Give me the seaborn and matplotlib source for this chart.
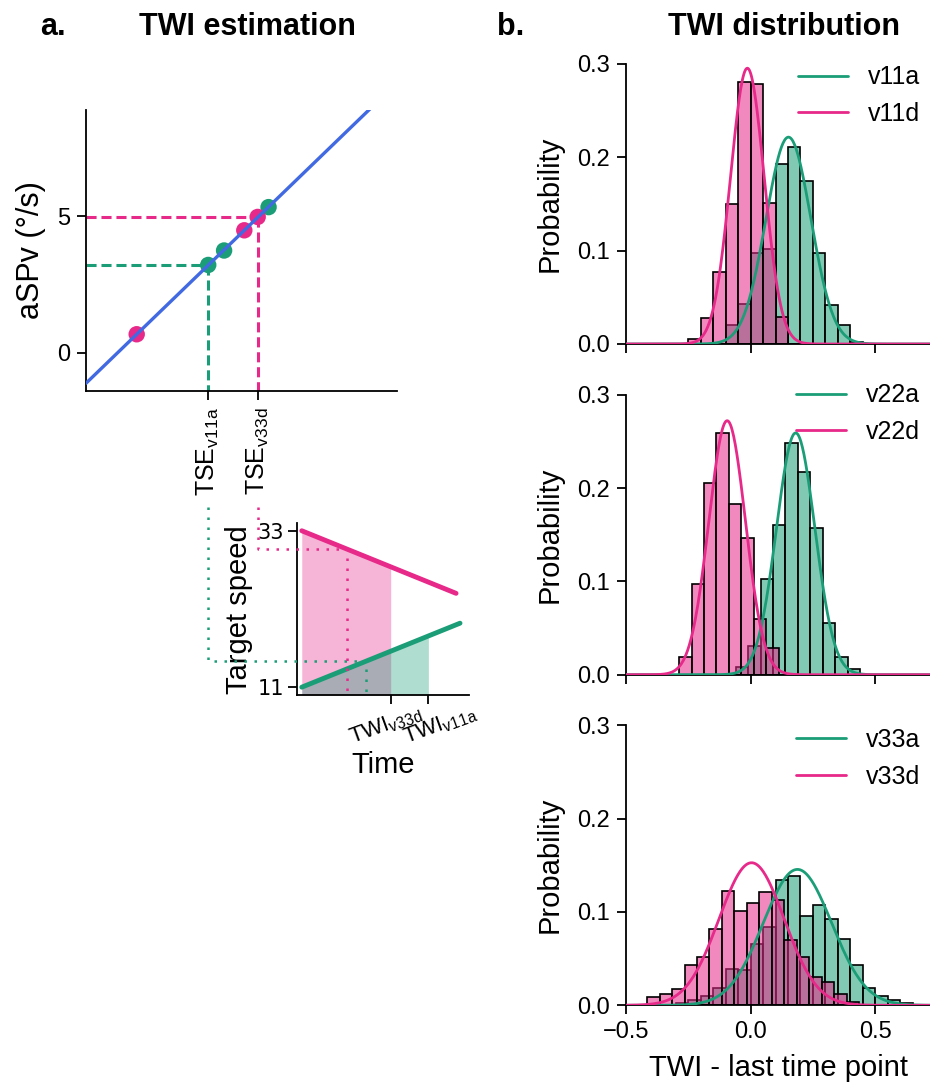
import numpy as np
import pandas as pd
import matplotlib
matplotlib.use("Agg")
import matplotlib.pyplot as plt
import matplotlib.transforms as mtransforms
from matplotlib.lines import Line2D
import seaborn as sns

# ---------------- colours ----------------
GREEN = "#1b9e77"
PINK = "#e7298a"
BLUE = "#4169e1"

# ---------------- panel a : TWI estimation ----------------
est_time_green = [3.93, 4.44, 5.87]
est_aspv_green = [3.22, 3.75, 5.34]
est_time_pink = [1.63, 5.09, 5.52]
est_aspv_pink = [0.68, 4.49, 4.98]
tse_labels = ["TSE$_{\\mathregular{v11a}}$", "TSE$_{\\mathregular{v33d}}$"]
tse_time = [3.93, 5.52]
tse_aspv = [3.22, 4.98]
aspv_ticks = [0, 5]

# inset: target speed over time
speed_ticks = [11, 33]
accel_time = [0.26, 9.46]
accel_speed = [11.0, 20.0]
decel_time = [0.26, 9.23]
decel_speed = [33.0, 24.2]
matched_speed = [14.64, 30.44]          # v11a, v33d
twi_labels = ["TWI$_{\\mathregular{v33d}}$", "TWI$_{\\mathregular{v11a}}$"]
twi_time = [5.43, 7.62]                 # v33d, v11a

# ---------------- panel b : TWI distributions ----------------
bin_width = 0.05
names = [("v11a", "v11d"), ("v22a", "v22d"), ("v33a", "v33d")]
acc_start = [-0.10, -0.06, -0.30]
acc_heights = [
    [0.020, 0.0425, 0.097, 0.102, 0.193, 0.2115, 0.175, 0.097, 0.042, 0.020, 0.002],
    [0.0086, 0.031, 0.1025, 0.160, 0.248, 0.2176, 0.157, 0.0556, 0.0185, 0.006],
    [0.0025, 0.006, 0.0097, 0.019, 0.039, 0.038, 0.066, 0.084, 0.134, 0.139,
     0.096, 0.107, 0.0925, 0.0713, 0.043, 0.019, 0.010, 0.0054, 0.002],
]
dec_start = [-0.25, -0.287, -0.415]
dec_heights = [
    [0.005, 0.0275, 0.077, 0.150, 0.281, 0.279, 0.151, 0.029],
    [0.0185, 0.0968, 0.2058, 0.2587, 0.183, 0.1468, 0.0597, 0.029],
    [0.0093, 0.0122, 0.018, 0.0434, 0.0513, 0.082, 0.1226, 0.1007, 0.110,
     0.121, 0.113, 0.070, 0.052, 0.030, 0.0247, 0.012, 0.0036],
]
acc_mean = [0.152, 0.181, 0.188]
acc_sd = [0.090, 0.077, 0.137]
dec_mean = [-0.013, -0.094, 0.004]
dec_sd = [0.0675, 0.0733, 0.1306]
legend_anchor_y = [1.031, 1.076, 1.026]

# ---------------- style ----------------
sns.set_style("ticks")
plt.rcParams["font.family"] = ["Liberation Sans", "DejaVu Sans"]
plt.rcParams["mathtext.fontset"] = "dejavusans"
plt.rcParams.update({
    "axes.linewidth": 1.3,
    "xtick.major.width": 1.3, "ytick.major.width": 1.3,
    "xtick.major.size": 6.5, "ytick.major.size": 6.5,
    "xtick.labelsize": 17, "ytick.labelsize": 17,
    "axes.labelsize": 21,
    "xtick.color": "black", "ytick.color": "black",
    "axes.edgecolor": "black",
    "text.color": "black", "axes.labelcolor": "black",
})

W, H = 930, 1087
fig = plt.figure(figsize=(W / 100, H / 100), dpi=100)


def fx(px):
    return px / W


def fy(py):
    return 1 - py / H


# ---------- panel a main ----------
ax_a = fig.add_axes([fx(86), fy(391), fx(311), 281 / H])
ax_a.set_xlim(0, 10)
ax_a.set_ylim(-1.4, 8.9)

dash = (0, (3.3, 1.6))
for (tx, ty, col) in [(tse_time[0], tse_aspv[0], GREEN), (tse_time[1], tse_aspv[1], PINK)]:
    ax_a.plot([0, tx], [ty, ty], color=col, lw=2.2, ls=dash, zorder=2)
    ax_a.plot([tx, tx], [ty, -1.4], color=col, lw=2.2, ls=dash, zorder=2)

sns.scatterplot(x=est_time_green, y=est_aspv_green, color=GREEN, s=140,
                edgecolor="none", ax=ax_a, zorder=3)
sns.scatterplot(x=est_time_pink, y=est_aspv_pink, color=PINK, s=140,
                edgecolor="none", ax=ax_a, zorder=3)

all_t = np.array(est_time_green + est_time_pink)
all_v = np.array(est_aspv_green + est_aspv_pink)
slope, intercept = np.polyfit(all_t, all_v, 1)
line_t = np.array([0.0, 10.0])
sns.lineplot(x=line_t, y=intercept + slope * line_t, color=BLUE, lw=2.4,
             ax=ax_a, zorder=4)

ax_a.set_yticks(aspv_ticks)
ax_a.set_xticks(tse_time)
ax_a.set_xticklabels(tse_labels, rotation=90, fontsize=18)
ax_a.tick_params(axis="both", pad=5)
ax_a.set_ylabel("aSPv (°/s)", labelpad=8, fontsize=22)
sns.despine(ax=ax_a)

# ---------- inset ----------
ax_in = fig.add_axes([fx(297.3), fy(695), fx(172), 171.7 / H])
ax_in.set_xlim(0, 10)
ax_in.set_ylim(9.9, 34.05)

tt = np.linspace(decel_time[0], twi_time[0], 100)
ax_in.fill_between(tt, 9.9, np.interp(tt, decel_time, decel_speed),
                   color=PINK, alpha=0.35, lw=0)
tt = np.linspace(accel_time[0], twi_time[1], 100)
ax_in.fill_between(tt, 9.9, np.interp(tt, accel_time, accel_speed),
                   color=GREEN, alpha=0.35, lw=0)

sns.lineplot(x=decel_time, y=decel_speed, color=PINK, lw=3.5, ax=ax_in)
sns.lineplot(x=accel_time, y=accel_speed, color=GREEN, lw=3.5, ax=ax_in)

# dotted guides linking panel a's TSE to inset
fig.canvas.draw()


def a_to_in(x):
    disp = ax_a.transData.transform((x, 0))
    return ax_in.transData.inverted().transform(disp)[0]


top_y = 36.37
dot = (0, (1, 3))
for tx, spd, line_t_, line_s_, col in [
        (tse_time[0], matched_speed[0], accel_time, accel_speed, GREEN),
        (tse_time[1], matched_speed[1], decel_time[::-1], decel_speed[::-1], PINK)]:
    xl = a_to_in(tx)
    t_hit = np.interp(spd, line_s_, line_t_)
    ax_in.plot([xl, xl, t_hit, t_hit], [top_y, spd, spd, 9.9], color=col,
               lw=1.8, ls=dot, clip_on=False, zorder=5)

ax_in.set_yticks(speed_ticks)
ax_in.set_yticklabels([str(v) for v in speed_ticks], fontsize=15,
                      family="DejaVu Sans")
ax_in.set_xticks(twi_time)
ax_in.set_xticklabels(["", ""])
blend = mtransforms.blended_transform_factory(ax_in.transData, ax_in.transAxes)
for t, lab, dx in zip(twi_time, twi_labels, [-3.5, 8.5]):
    ax_in.annotate(lab, xy=(t, 0), xycoords=blend, xytext=(dx, -5),
                   textcoords="offset points", ha="center", va="top",
                   rotation=20, fontsize=16, annotation_clip=False)
ax_in.tick_params(axis="y", pad=3)
ax_in.set_ylabel("Target speed", labelpad=3)
ax_in.set_xlabel("Time", labelpad=30)
sns.despine(ax=ax_in)

# ---------- panel b ----------
tops = [344, 674.7, 1005.3]
x_grid = np.linspace(-0.5, 0.75, 400)
for i in range(3):
    ax = fig.add_axes([fx(626), fy(tops[i]), 1 - fx(626), 280 / H])
    for start, heights, col in [(acc_start[i], acc_heights[i], GREEN),
                                (dec_start[i], dec_heights[i], PINK)]:
        n = len(heights)
        edges = [start + bin_width * k for k in range(n + 1)]
        df = pd.DataFrame({"twi": [e + bin_width / 2 for e in edges[:-1]],
                           "prob": heights})
        sns.histplot(data=df, x="twi", weights="prob", bins=edges, color=col,
                     alpha=0.55, edgecolor="black", linewidth=1.2, ax=ax)
    handles = []
    for mu, sd, col, lab in [(acc_mean[i], acc_sd[i], GREEN, names[i][0]),
                             (dec_mean[i], dec_sd[i], PINK, names[i][1])]:
        dens = bin_width * np.exp(-0.5 * ((x_grid - mu) / sd) ** 2) / (sd * np.sqrt(2 * np.pi))
        sns.lineplot(x=x_grid, y=dens, color=col, lw=2.0, ax=ax, zorder=5)
        handles.append(Line2D([], [], color=col, lw=2.0, label=lab))
    ax.legend(handles=handles, loc="upper right", bbox_to_anchor=(1.0, legend_anchor_y[i]),
              frameon=False, fontsize=18, handlelength=2.0, handletextpad=0.8,
              borderaxespad=0.0)
    ax.set_xlim(-0.5, 0.72)
    ax.set_ylim(0, 0.3)
    ax.set_yticks([0.0, 0.1, 0.2, 0.3])
    ax.set_yticklabels(["0.0", "0.1", "0.2", "0.3"])
    ax.set_xticks([-0.5, 0.0, 0.5])
    ax.tick_params(axis="both", pad=5)
    ax.set_ylabel("Probability", labelpad=10)
    if i < 2:
        ax.set_xticklabels([])
        ax.set_xlabel("")
    else:
        ax.set_xticklabels(["\u22120.5", "0.0", "0.5"])
        ax.set_xlabel("TWI - last time point", labelpad=8)
    sns.despine(ax=ax)

# ---------- titles ----------
fig.text(fx(40), fy(27), "a.", fontsize=22, fontweight="bold", ha="left", va="center")
fig.text(fx(247), fy(27), "TWI estimation", fontsize=22, fontweight="bold",
         ha="center", va="center")
fig.text(fx(497), fy(27), "b.", fontsize=22, fontweight="bold", ha="left", va="center")
fig.text(fx(784), fy(27), "TWI distribution", fontsize=22, fontweight="bold",
         ha="center", va="center")

fig.savefig("out.png", dpi=100)
